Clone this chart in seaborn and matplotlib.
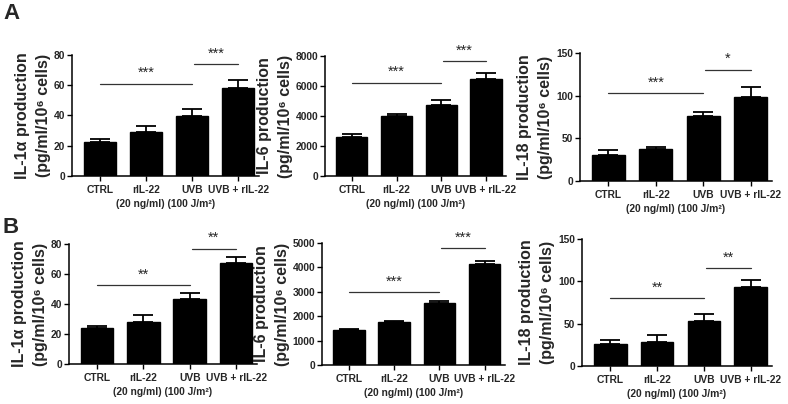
import matplotlib
matplotlib.use("Agg")
import matplotlib.pyplot as plt
import seaborn as sns
import pandas as pd
import numpy as np

sns.set_theme(style="ticks")
plt.rcParams['font.family'] = ['Liberation Sans', 'DejaVu Sans']
plt.rcParams['font.weight'] = 'bold'

# ---------------- data ----------------
groups = ["CTRL", "rIL-22", "UVB", "UVB + rIL-22"]
dose_note = "(20 ng/ml) (100 J/m\u00b2)"

a_il1a_mean = [22.2, 28.9, 39.6, 58.2]
a_il1a_sem = [2.0, 4.1, 4.6, 5.4]
a_il6_mean = [2620, 4010, 4720, 6450]
a_il6_sem = [150, 150, 350, 400]
a_il18_mean = [30.2, 38.0, 76.0, 98.7]
a_il18_sem = [6.2, 1.6, 4.7, 11.0]

b_il1a_mean = [24.3, 28.1, 43.2, 67.4]
b_il1a_sem = [1.1, 4.5, 4.0, 4.1]
b_il6_mean = [1452, 1767, 2534, 4137]
b_il6_sem = [41, 41, 82, 137]
b_il18_mean = [25.9, 27.9, 53.4, 93.8]
b_il18_sem = [4.7, 9.0, 8.2, 8.2]

ylabels = ["IL-1\u03b1 production\n(pg/ml/10\u2076 cells)",
           "IL-6 production\n(pg/ml/10\u2076 cells)",
           "IL-18 production\n(pg/ml/10\u2076 cells)"]

ymax = {"a1": 80, "a2": 8000, "a3": 150, "b1": 80, "b2": 5000, "b3": 150}
ystep = {"a1": 20, "a2": 2000, "a3": 50, "b1": 20, "b2": 1000, "b3": 50}

sig_heights = {"a1": [61, 73.8], "a2": [6227, 7668], "a3": [102.6, 130.4],
               "b1": [52.4, 77], "b2": [3000, 4781], "b3": [80.5, 115.4]}
sig_labels = {"a1": ["***", "***"], "a2": ["***", "***"], "a3": ["***", "*"],
              "b1": ["**", "**"], "b2": ["***", "***"], "b3": ["**", "**"]}

panels = {
    "a1": (a_il1a_mean, a_il1a_sem, ylabels[0]),
    "a2": (a_il6_mean, a_il6_sem, ylabels[1]),
    "a3": (a_il18_mean, a_il18_sem, ylabels[2]),
    "b1": (b_il1a_mean, b_il1a_sem, ylabels[0]),
    "b2": (b_il6_mean, b_il6_sem, ylabels[1]),
    "b3": (b_il18_mean, b_il18_sem, ylabels[2]),
}

# axes positions in pixels: left, top, right, bottom
W, H = 788, 404
pos_px = {
    "a1": (72, 55, 259, 176),
    "a2": (325, 56, 506, 176),
    "a3": (580, 53, 772, 181),
    "b1": (69, 244, 257, 364),
    "b2": (322, 243, 505, 365),
    "b3": (582, 239, 772, 366),
}

fig = plt.figure(figsize=(W / 100, H / 100), dpi=100)

for key, (means, sems, ylab) in panels.items():
    l, t, r, b = pos_px[key]
    ax = fig.add_axes([l / W, 1 - b / H, (r - l) / W, (b - t) / H])
    df = pd.DataFrame({"group": groups, "value": means})
    sns.barplot(data=df, x="group", y="value", color="black", width=0.7,
                errorbar=None, ax=ax, saturation=1, edgecolor="black")
    x = np.arange(len(groups))
    ax.errorbar(x, means, yerr=[np.zeros(len(sems)), sems], fmt="none",
                ecolor="black", elinewidth=1.3, capsize=7, capthick=1.3)
    ax.set_ylim(0, ymax[key])
    ax.set_yticks(np.arange(0, ymax[key] + 1, ystep[key]))
    ax.set_xlim(-0.6, 3.45)
    ax.set_xlabel("")
    ax.set_ylabel(ylab, fontsize=11.5, fontweight="bold", labelpad=2,
                  linespacing=1.5)
    ax.tick_params(axis="x", labelsize=7.4, width=1.0, length=3.5, color="black", pad=3)
    ax.tick_params(axis="y", labelsize=7.4, width=1.0, length=3.5, color="black", pad=1.5)
    for lab in ax.get_xticklabels() + ax.get_yticklabels():
        lab.set_fontweight("bold")
    for s in ["top", "right"]:
        ax.spines[s].set_visible(False)
    for s in ["left", "bottom"]:
        ax.spines[s].set_linewidth(1.1)
        ax.spines[s].set_color("black")
    # dose note under middle two groups
    ax.annotate(dose_note, (1.42, 0), xycoords=("data", "axes fraction"),
                xytext=(0, -20.5), textcoords="offset points",
                ha="center", va="center", fontsize=7.4, fontweight="bold",
                annotation_clip=False)
    # significance lines
    h1, h2 = sig_heights[key]
    s1, s2 = sig_labels[key]
    ax.plot([0, 2], [h1, h1], color="#333333", lw=0.9, clip_on=False)
    ax.plot([2.04, 3], [h2, h2], color="#333333", lw=0.9, clip_on=False)
    ax.annotate(s1, (1, h1), xytext=(0, 2.5), textcoords="offset points",
                ha="center", va="bottom", fontsize=10.5, fontweight="normal",
                annotation_clip=False)
    ax.annotate(s2, (2.52, h2), xytext=(0, 2.5), textcoords="offset points",
                ha="center", va="bottom", fontsize=10.5, fontweight="normal",
                annotation_clip=False)

fig.text(3 / W, 1 - 3 / H, "A", fontsize=16, fontweight="bold", ha="left", va="top")
fig.text(3 / W, 1 - 217 / H, "B", fontsize=16, fontweight="bold", ha="left", va="top")

fig.savefig("out.png", dpi=100, facecolor="white")
